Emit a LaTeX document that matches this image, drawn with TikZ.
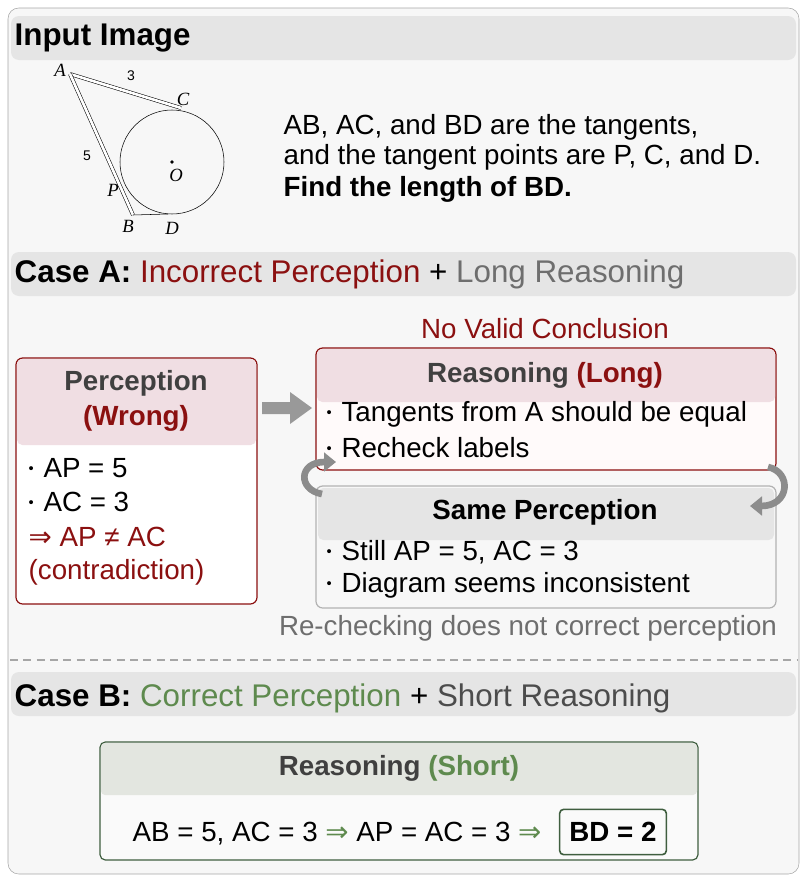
\documentclass[tikz,border=0pt]{standalone}
\usepackage{fontspec}
\setmainfont{Liberation Sans}
\newfontfamily\dejavu{DejaVu Sans}
\newfontfamily\serifit{Liberation Serif}
\usetikzlibrary{arrows.meta}
\definecolor{dred}{HTML}{8B1010}
\definecolor{dgreen}{HTML}{5E8A4E}
\definecolor{gtxt}{HTML}{6E6E6E}
\definecolor{pinkh}{HTML}{F0DEE3}
\definecolor{greenh}{HTML}{E3E6E0}
\definecolor{gbord}{HTML}{3F5E3F}
\newcommand{\imp}{{\dejavu ⇒}}
\newcommand{\bl}{\raisebox{0.15em}{\fontsize{11}{11}\selectfont •}\hspace{0.35em}}
\begin{document}
\begin{tikzpicture}[x=0.75pt,y=-0.75pt,
 band/.style={fill=black!10,rounded corners=6pt,draw=none},
 body/.style={font=\fontsize{20.8}{24}\selectfont,anchor=west},
 ttl/.style={font=\fontsize{20.8}{24}\selectfont\bfseries},
 big/.style={font=\fontsize{23.5}{27}\selectfont,anchor=west},
 glab/.style={font=\fontsize{14}{15}\selectfont\serifit\itshape}]
\useasboundingbox (0,0) rectangle (807,882);
\draw[black!35,fill=black!3,rounded corners=8pt] (8,8) rectangle (799,874);
% Input image
\fill[band] (11,16) rectangle (796,60);
\node[big,font=\fontsize{23.5}{27}\selectfont\bfseries] (t1) at (10,38) {Input Image};
\coordinate (A) at (70,74); \coordinate (C) at (181,108); \coordinate (P) at (122,193);
\coordinate (B) at (133,215); \coordinate (D) at (168,214); \coordinate (O) at (172,162);
\draw[thin] (O) circle (52);
\draw[double,double distance=2pt,thin] (A) -- (C);
\draw[double,double distance=2pt,thin] (A) -- (B);
\draw[thin] (B) -- (D);
\fill (O) circle (1.8);
\node[glab] (lA) at (60,70) {A}; \node[glab] (lC) at (183,99) {C};
\node[glab] (lP) at (113,190) {P}; \node[glab] (lB) at (128,226) {B};
\node[glab] (lD) at (172,228) {D}; \node[glab] (lO) at (176,175) {O};
\node[font=\fontsize{10.5}{11}\selectfont] (l3) at (131,76) {3};
\node[font=\fontsize{10.5}{11}\selectfont] (l5) at (87,156) {5};
\node[body] (q1) at (279,127) {AB, AC, and BD are the tangents,};
\node[body] (q2) at (279,157) {and the tangent points are P, C, and D.};
\node[body,font=\fontsize{20.8}{24}\selectfont\bfseries] (q3) at (279,189) {Find the length of BD.};
% Case A
\fill[band] (11,252) rectangle (796,296);
\node[big] (ca) at (10,274) {\textbf{Case A:} \textcolor{dred}{Incorrect Perception} + \textcolor{gtxt}{Long Reasoning}};
\node[font=\fontsize{20.8}{24}\selectfont,text=dred] (nv) at (545,329) {No Valid Conclusion};
% Perception box
\draw[dred,line width=0.9pt,fill=white,rounded corners=5pt] (16,358) rectangle (257,604);
\fill[pinkh,rounded corners=4pt] (17,359) rectangle (256,445);
\node[ttl,text=black!75] (pt) at (136,383) {Perception};
\node[ttl,text=dred] (pw) at (136,418) {(Wrong)};
\node[body] (p1) at (24,468) {\bl AP = 5};
\node[body] (p2) at (24,502) {\bl AC = 3};
\node[body,text=dred] (p3) at (24,537) {\imp{} AP ≠ AC};
\node[body,text=dred] (p4) at (24,572) {(contradiction)};
% Reasoning long
\draw[dred,line width=0.9pt,fill=red!2,rounded corners=5pt] (316,348) rectangle (776,470);
\fill[pinkh,rounded corners=4pt] (317,349) rectangle (775,402);
\node[ttl,text=black!75] (rt) at (545,375) {Reasoning \textcolor{dred}{(Long)}};
\node[body] (r1) at (322,414) {\bl Tangents from A should be equal};
\node[body] (r2) at (322,448) {\bl Recheck labels};
% block arrow
\fill[black!40] (262,402) -- (290,402) -- (290,392) -- (312,408) -- (290,424) -- (290,414) -- (262,414) -- cycle;
% Same perception
\draw[black!30,line width=0.9pt,fill=black!3,rounded corners=5pt] (316,486) rectangle (776,608);
\fill[black!10,rounded corners=4pt] (318,488) rectangle (774,540);
\node[ttl] (st) at (545,512) {Same Perception};
\node[body] (s1) at (322,552) {\bl Still AP = 5, AC = 3};
\node[body] (s2) at (322,585) {\bl Diagram seems inconsistent};
\node[font=\fontsize{20.8}{24}\selectfont,text=gtxt] (rc) at (528,628) {Re-checking does not correct perception};
% cycle arrows
\draw[black!45,line width=5pt,-{Triangle[length=9pt,width=14pt]}] (322,494) .. controls (298,490) and (298,462) .. (336,462);
\draw[black!45,line width=5pt,-{Triangle[length=9pt,width=14pt]}] (768,467) .. controls (792,472) and (790,506) .. (750,506);
% dashed
\draw[black!35,line width=1.3pt,dash pattern=on 6pt off 4pt] (10,660) -- (797,660);
% Case B
\fill[band] (11,672) rectangle (796,716);
\node[big] (cb) at (10,698) {\textbf{Case B:} \textcolor{dgreen}{Correct Perception} + \textcolor{black!70}{Short Reasoning}};
\draw[gbord,line width=0.9pt,fill=black!2,rounded corners=4pt] (100,742) rectangle (698,860);
\fill[greenh,rounded corners=3pt] (101,743) rectangle (697,795);
\node[ttl,text=black!75] (bt) at (399,768) {Reasoning \textcolor{dgreen}{(Short)}};
\node[body] (b1) at (128,834) {AB = 5, AC = 3 \textcolor{dgreen}{\imp} AP = AC = 3 \textcolor{dgreen}{\imp}};
\node[draw=gbord,line width=1.2pt,fill=black!2,rounded corners=3pt,minimum width=80pt,minimum height=34pt,font=\fontsize{20.8}{24}\selectfont\bfseries] (bd) at (613,832) {BD = 2};
\end{tikzpicture}
\end{document}
